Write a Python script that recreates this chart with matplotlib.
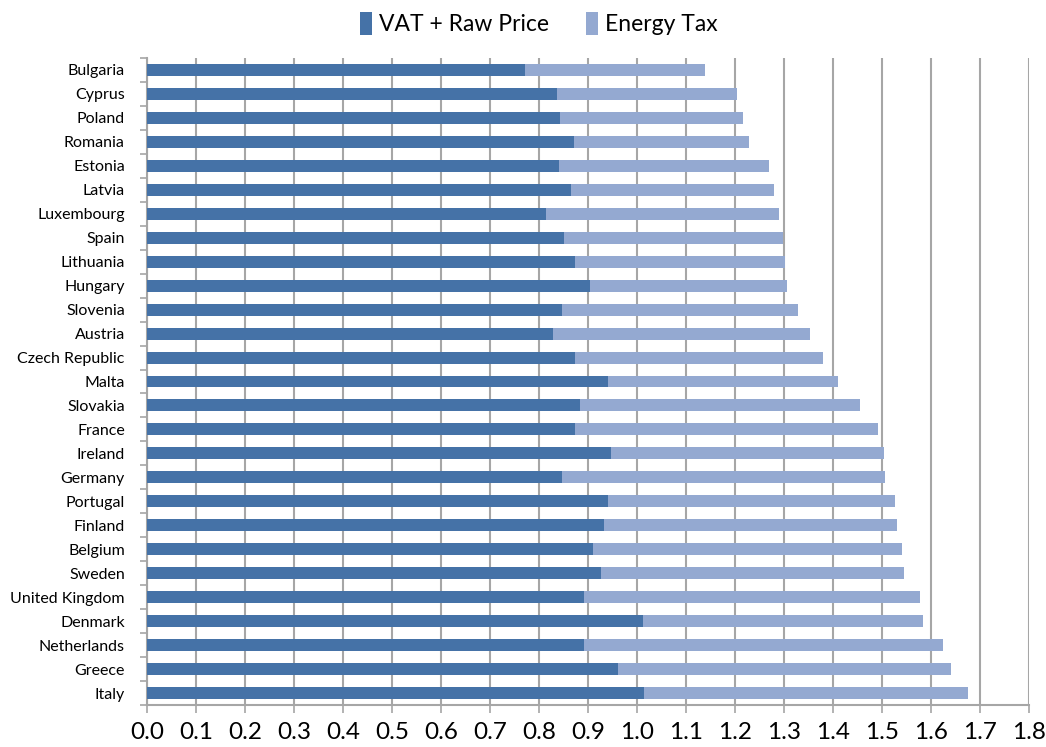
import matplotlib
matplotlib.use("Agg")
import matplotlib.pyplot as plt
import numpy as np

countries = ["Bulgaria", "Cyprus", "Poland", "Romania", "Estonia", "Latvia",
             "Luxembourg", "Spain", "Lithuania", "Hungary", "Slovenia", "Austria",
             "Czech Republic", "Malta", "Slovakia", "France", "Ireland", "Germany",
             "Portugal", "Finland", "Belgium", "Sweden", "United Kingdom", "Denmark",
             "Netherlands", "Greece", "Italy"]
vat_raw = [0.771, 0.836, 0.843, 0.871, 0.841, 0.866, 0.815, 0.851, 0.873, 0.904,
           0.846, 0.828, 0.874, 0.940, 0.884, 0.874, 0.946, 0.846, 0.940, 0.933,
           0.910, 0.927, 0.892, 1.012, 0.892, 0.961, 1.014]
total = [1.139, 1.205, 1.216, 1.229, 1.269, 1.280, 1.290, 1.297, 1.302, 1.307,
         1.328, 1.354, 1.379, 1.410, 1.456, 1.491, 1.504, 1.507, 1.527, 1.530,
         1.540, 1.545, 1.578, 1.583, 1.624, 1.641, 1.676]
energy_tax = [t - v for t, v in zip(total, vat_raw)]
xticks = [round(0.1 * i, 1) for i in range(19)]

dark = "#4572A7"
light = "#94A9D1"
grid_c = "#A6A6A6"

plt.rcParams['font.family'] = ['Lato', 'DejaVu Sans']

fig = plt.figure(figsize=(10.46, 7.47), dpi=100)
ax = fig.add_axes([147/1046, 1 - 705/747, (1029 - 147)/1046, (705 - 58)/747])

y = np.arange(len(countries))
ax.barh(y, vat_raw, height=0.5, color=dark, label="VAT + Raw Price", zorder=3)
ax.barh(y, energy_tax, left=vat_raw, height=0.5, color=light, label="Energy Tax", zorder=3)

ax.set_ylim(len(countries) - 0.5, -0.5)
ax.set_xlim(0, 1.8)
ax.set_xticks(xticks)
ax.set_xticklabels([f"{t:.1f}" for t in xticks], fontsize=17.5)
ax.set_yticks(y)
ax.set_yticklabels(countries, fontsize=11.5)
ax.set_yticks(np.arange(-0.5, len(countries) + 0.5, 1), minor=True)
ax.tick_params(axis='y', which='major', length=0, pad=16)
ax.tick_params(axis='y', which='minor', length=5, color=grid_c, width=1.2, direction='out')
ax.tick_params(axis='x', which='major', length=6, color=grid_c, width=1.2, direction='out', pad=6)

ax.xaxis.grid(True, color=grid_c, linewidth=1.5, zorder=0)
ax.set_axisbelow(True)
for s in ['top', 'right']:
    ax.spines[s].set_visible(False)
for s in ['left', 'bottom']:
    ax.spines[s].set_color(grid_c)
    ax.spines[s].set_linewidth(1.5)

leg = fig.legend(loc='upper center', bbox_to_anchor=(0.515, 1.012), ncol=2, frameon=False,
                 fontsize=16.5, handlelength=0.55, handleheight=1.2, columnspacing=1.6,
                 handletextpad=0.3)

fig.savefig("out.png", dpi=100)
